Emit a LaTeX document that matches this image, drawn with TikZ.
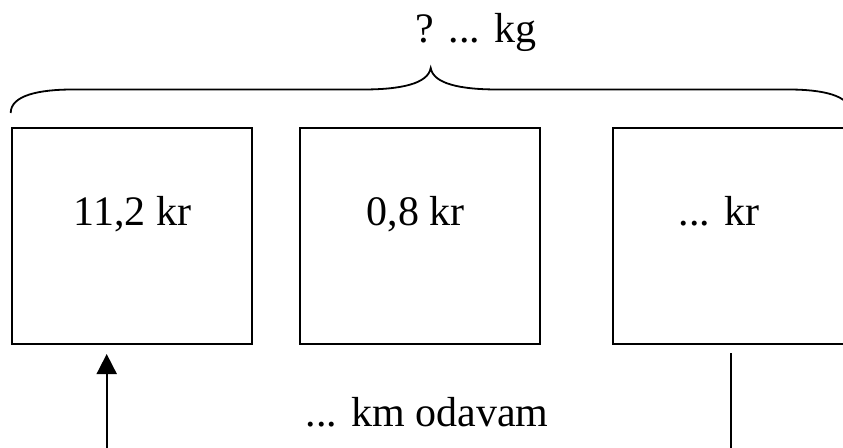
\documentclass[tikz,border=0pt]{standalone}
\usepackage{fontspec}
\setmainfont{Liberation Serif}
\usetikzlibrary{arrows.meta}
\begin{document}
\begin{tikzpicture}[x=1pt,y=-1pt,
  line width=1.8pt,
  boxnode/.style={draw,line width=1.8pt,minimum width=240pt,minimum height=216pt,inner sep=0pt,anchor=north west},
  txt/.style={font=\fontsize{42}{48}\selectfont,inner sep=0pt,anchor=base west}]
\useasboundingbox (0,0) rectangle (843,447);
\begin{scope}
\clip (0,0) rectangle (843,447);
\node[boxnode] (b1) at (11,126.7) {};
\node[boxnode] (b2) at (299,126.7) {};
\node[boxnode] (b3) at (612,126.7) {};
\node[txt] (t1) at (73,225) {11,2 kr};
\node[txt] (t2) at (366,225) {0,8 kr};
\node[txt] (t3) at (678,225) {... kr};
\node[txt] (top) at (415,42.7) {? ... kg};
\node[txt] (bot) at (305,426.7) {... km odavam};
\coordinate (bl) at (10.7,113);
\coordinate (bp) at (430.7,68);
\coordinate (br) at (850.7,113);
\draw (bl) .. controls (10.7,95) and (40,89.5) .. (73,89.5) -- (363,89.5)
  .. controls (400,89.5) and (428,84) .. (bp)
  .. controls (433.4,84) and (461,89.5) .. (498,89.5) -- (788.4,89.5)
  .. controls (821.4,89.5) and (850.7,95) .. (br);
\coordinate (a0) at (106.7,450);
\coordinate (a1) at (106.7,354);
\draw[-{Triangle[width=20pt,length=20pt]}] (a0) -- (a1);
\coordinate (l0) at (731,353.3);
\coordinate (l1) at (731,450);
\draw (l0) -- (l1);
\end{scope}
\end{tikzpicture}
\end{document}
